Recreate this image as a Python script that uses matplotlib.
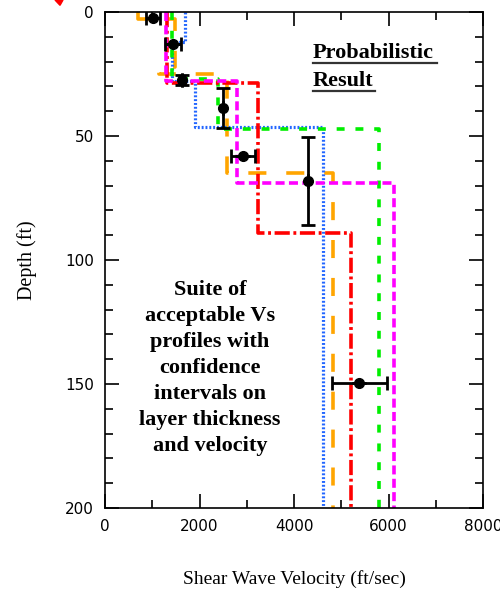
import numpy as np
import matplotlib
matplotlib.use("Agg")
import matplotlib.pyplot as plt
from matplotlib.ticker import MultipleLocator
from matplotlib.patches import Polygon

# layer boundaries (ft) and layer velocities (ft/sec) for each trial profile
blue_depth = [0, 12, 28, 46.5, 200]
blue_vel = [1690, 1420, 1900, 4610]
green_depth = [0, 27, 47, 200]
green_vel = [1420, 2390, 5800]
magenta_depth = [0, 28, 69, 200]
magenta_vel = [1300, 2800, 6110]
red_depth = [0, 28.5, 89, 200]
red_vel = [1310, 3240, 5210]
orange_depth = [0, 3, 22, 25, 65, 200]
orange_vel = [700, 1480, 1150, 2580, 4820]

# probabilistic result: mean point and confidence intervals
pt_vel = [1015, 1440, 1630, 2500, 2920, 4300, 5380]
pt_depth = [2.4, 13, 27.4, 38.6, 58, 68, 149.7]
pt_xerr = [150, 170, 0, 0, 255, 0, 585]
pt_yerr = [0, 0, 2, 8, 0, 17.7, 0]


def stairs(depth, vel):
    x = np.repeat(vel, 2)
    y = np.repeat(depth, 2)[1:-1]
    return x, y


fig = plt.figure(figsize=(5, 5.9), dpi=100)
ax = fig.add_axes([0.21, 0.139, 0.756, 0.8407])

lw = 2.6
x, y = stairs(orange_depth, orange_vel)
ax.plot(x, y, color="#ffa500", lw=lw, dashes=(5, 5.5))
x, y = stairs(blue_depth, blue_vel)
ax.plot(x, y, color="#2266ff", lw=2.3, dashes=(0.6, 0.6))
x, y = stairs(green_depth, green_vel)
ax.plot(x, y, color="#00ee00", lw=lw, dashes=(2.2, 3))
x, y = stairs(red_depth, red_vel)
ax.plot(x, y, color="#ff0000", lw=lw, dashes=(4.2, 1, 0.8, 1))
x, y = stairs(magenta_depth, magenta_vel)
ax.plot(x, y, color="#ff00ff", lw=lw, dashes=(2.5, 1.2))

ax.errorbar(pt_vel, pt_depth, xerr=pt_xerr, yerr=pt_yerr, fmt="o",
            color="black", ms=7, elinewidth=2, capsize=5, capthick=2)

ax.set_xlim(0, 8000)
ax.set_ylim(200, 0)
ax.xaxis.set_major_locator(MultipleLocator(2000))
ax.xaxis.set_minor_locator(MultipleLocator(1000))
ax.yaxis.set_major_locator(MultipleLocator(50))
ax.yaxis.set_minor_locator(MultipleLocator(10))
ax.tick_params(which="both", direction="in", top=True, right=True, width=1.2,
               labelsize=11, pad=8)
ax.tick_params(which="major", length=10)
ax.tick_params(which="minor", length=6)
for s in ax.spines.values():
    s.set_linewidth(1.2)

serif = "Liberation Serif"
ax.set_xlabel("Shear Wave Velocity (ft/sec)", fontsize=14, family=serif, labelpad=26)
ax.set_ylabel("Depth (ft)", fontsize=14.5, family=serif, labelpad=20)

ax.text(0.55, 0.907, "Probabilistic", transform=ax.transAxes, fontsize=16,
        family=serif, weight="bold", va="baseline")
ax.text(0.55, 0.851, "Result", transform=ax.transAxes, fontsize=16,
        family=serif, weight="bold", va="baseline")
ax.plot([0.55, 0.878], [0.897, 0.897], transform=ax.transAxes, color="#333333", lw=1.6)
ax.plot([0.55, 0.714], [0.841, 0.841], transform=ax.transAxes, color="#333333", lw=1.6)

ax.text(0.278, 0.283, "Suite of\nacceptable Vs\nprofiles with\nconfidence\nintervals on\nlayer thickness\nand velocity",
        transform=ax.transAxes, fontsize=16, family=serif, weight="bold",
        ha="center", va="center", linespacing=1.4)

# small red arrow tip at the top left corner
fig.patches.append(Polygon([[0.11, 1.0], [0.126, 1.0], [0.12, 0.991]],
                           closed=True, transform=fig.transFigure, color="red"))

fig.savefig("out.png", dpi=100)
